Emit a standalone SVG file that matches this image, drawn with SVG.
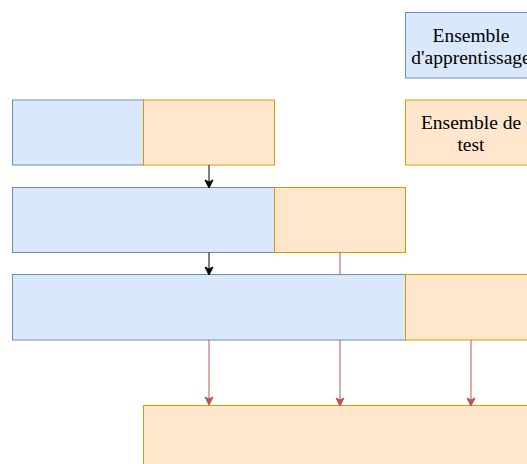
<svg xmlns="http://www.w3.org/2000/svg" width="527" height="464" viewBox="0 0 527 464">
<style>
.b{fill:#dae8fc;stroke:#6c8ebf;stroke-width:1}
.o{fill:#ffe6cc;stroke:#d79b00;stroke-width:1}
.t{font-family:"Liberation Serif","Times New Roman",serif;font-size:19.5px;fill:#000;text-anchor:middle}
.k{stroke:#000;stroke-width:1;fill:none}
.r{stroke:#b85450;stroke-width:1;fill:none}
</style>
<defs>
<marker id="ak" markerWidth="10" markerHeight="10" refX="8" refY="5" orient="auto" markerUnits="userSpaceOnUse"><path d="M1,1 L9,5 L1,9 L3,5 Z" fill="#000" stroke="#000"/></marker>
<marker id="ar" markerWidth="10" markerHeight="10" refX="8" refY="5" orient="auto" markerUnits="userSpaceOnUse"><path d="M1,1 L9,5 L1,9 L3,5 Z" fill="#b85450" stroke="#b85450"/></marker>
</defs>
<rect width="527" height="464" fill="#fff"/>
<g id="legend-train"><rect class="b" x="405.5" y="12.5" width="131" height="65.5"/><text class="t" x="471" y="42">Ensemble</text><text class="t" x="471" y="64">d'apprentissage</text></g>
<g id="legend-test"><rect class="o" x="405.5" y="100" width="131" height="65"/><text class="t" x="471" y="129">Ensemble de</text><text class="t" x="471" y="151">test</text></g>
<g id="row1"><rect class="b" x="12.5" y="100" width="131" height="65"/><rect class="o" x="143.5" y="100" width="131" height="65"/></g>
<g id="row2"><rect class="b" x="12.5" y="187.5" width="262" height="65"/><rect class="o" x="274.5" y="187.5" width="131" height="65"/></g>
<g id="row3"><rect class="b" x="12.5" y="274.5" width="393" height="65.5"/><rect class="o" x="405.5" y="274.5" width="131" height="65.5"/></g>
<g id="result"><rect class="o" x="143.5" y="405.5" width="400" height="70"/></g>
<g id="connectors">
<line class="k" x1="209" y1="165" x2="209" y2="187" marker-end="url(#ak)"/>
<line class="k" x1="209" y1="252.5" x2="209" y2="274" marker-end="url(#ak)"/>
<line class="r" x1="340" y1="252.5" x2="340" y2="274.5"/>
<line class="r" x1="209" y1="340" x2="209" y2="404" marker-end="url(#ar)"/>
<line class="r" x1="340" y1="340" x2="340" y2="405" marker-end="url(#ar)"/>
<line class="r" x1="471" y1="340" x2="471" y2="405" marker-end="url(#ar)"/>
</g>
</svg>
